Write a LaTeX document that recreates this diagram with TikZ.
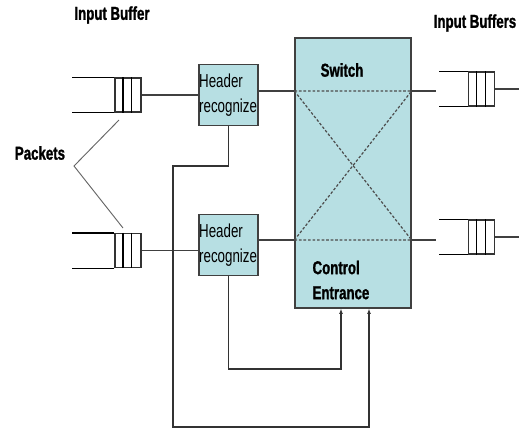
\documentclass[tikz,border=0pt]{standalone}
\usepackage{fontspec}
\setmainfont{Liberation Sans}[FakeStretch=0.71, BoldFeatures={FakeBold=1.2}]
\usepackage{tikz}
\usetikzlibrary{arrows.meta, positioning, calc}
\definecolor{swfill}{RGB}{183,223,227}

\begin{document}
\begin{tikzpicture}[
    x=0.75pt, y=-0.75pt,
    line width=0.9pt,
    lbl/.style={font=\fontsize{14}{15}\selectfont\bfseries, inner sep=0pt},
    hdr/.style={rectangle, draw=black!75, fill=swfill, minimum width=44.25pt, minimum height=45.75pt, text width=44pt, inner xsep=0.1pt, inner ysep=1pt, align=left, font=\fontsize{14.1}{19}\selectfont},
    switchbox/.style={rectangle, draw=black!75, fill=swfill, minimum width=87pt, minimum height=202.5pt, inner sep=0pt},
    qcell/.style={rectangle, draw=black!80, minimum width=19.5pt, minimum height=25.5pt, inner sep=0pt},
    wire/.style={draw=black!75},
    thinwire/.style={draw=black!60, line width=0.7pt},
    cross/.style={draw=black!70, dash pattern=on 2pt off 1.4pt},
    arrow/.style={-{Latex[length=4pt, width=3pt]}, draw=black!80}
]
\useasboundingbox (0,0) rectangle (519,430);

% Labels
\node (ibufL) [lbl] at (112,15) {Input Buffer};
\node (ibufR) [lbl] at (475,23) {Input Buffers};
\node (pkts) [lbl] at (40,153) {Packets};

% Switch
\node (sw) [switchbox] at (353,173) {};
\node (swt) [lbl] at (342,70) {Switch};
\node (ctrl) [lbl, align=left, anchor=west, font=\fontsize{14}{18.75}\selectfont\bfseries] at (312,280) {Control\\Entrance};

% Header recognizers
\node (hdrA) [hdr] at (228.5,95) {Header\\recognize};
\node (hdrB) [hdr, below=66pt of hdrA] {Header\\recognize};

% Queues
\foreach \qn/\qx/\qy/\ql in {qi1/128/95/42, qi2/128/250.5/42, qo1/481.5/89/28.5, qo2/481.5/237/28.5} {
    \node (\qn) [qcell] at (\qx,\qy) {};
    \draw ([xshift=6.5pt]\qn.north west) -- ([xshift=6.5pt]\qn.south west);
    \draw ([xshift=13pt]\qn.north west) -- ([xshift=13pt]\qn.south west);
    \draw (\qn.north west) -- ++(-\ql,0);
    \draw (\qn.south west) -- ++(-\ql,0);
}

% Crossing points
\coordinate (rowA) at (0,91);
\coordinate (rowB) at (0,240);
\coordinate (swA) at (sw.west |- rowA);
\coordinate (swB) at (sw.west |- rowB);
\coordinate (swC) at (sw.east |- rowA);
\coordinate (swD) at (sw.east |- rowB);
\coordinate (oinA) at (436,91);
\coordinate (oinB) at (436,240);
\coordinate (outA) at (519,89);
\coordinate (outB) at (519,237);
\coordinate (pkv) at (74,166);
\coordinate (pkA) at (119,120);
\coordinate (pkB) at (123,228);
\coordinate (jogA) at (173,166);
\coordinate (tapA) at ([xshift=12pt]sw.south);
\coordinate (tapB) at ([xshift=-9pt]sw.south);
\coordinate (baseA) at (tapA |- 0,427);
\coordinate (baseB) at (tapB |- 0,369);

% Wires
\draw [wire] (qi1.east) -- (qi1.east -| hdrA.west);
\draw [wire] (qi2.east) -- (qi2.east -| hdrB.west);
\draw [wire] (hdrA.east |- swA) -- (swA);
\draw [wire] (hdrB.east |- swB) -- (swB);
\draw [wire] (swC) -- (oinA);
\draw [wire] (swD) -- (oinB);
\draw [wire] (qo1.east) -- (outA);
\draw [wire] (qo2.east) -- (outB);
\draw [thinwire] (pkA) -- (pkv) -- (pkB);
\draw [cross] (swA) -- (swC) (swB) -- (swD) (swA) -- (swD) (swB) -- (swC);

% Control lines
\draw [arrow] (hdrA.south) |- (jogA) |- (baseA) -- (tapA);
\draw [arrow] (hdrB.south) |- (baseB) -- (tapB);

\end{tikzpicture}
\end{document}
